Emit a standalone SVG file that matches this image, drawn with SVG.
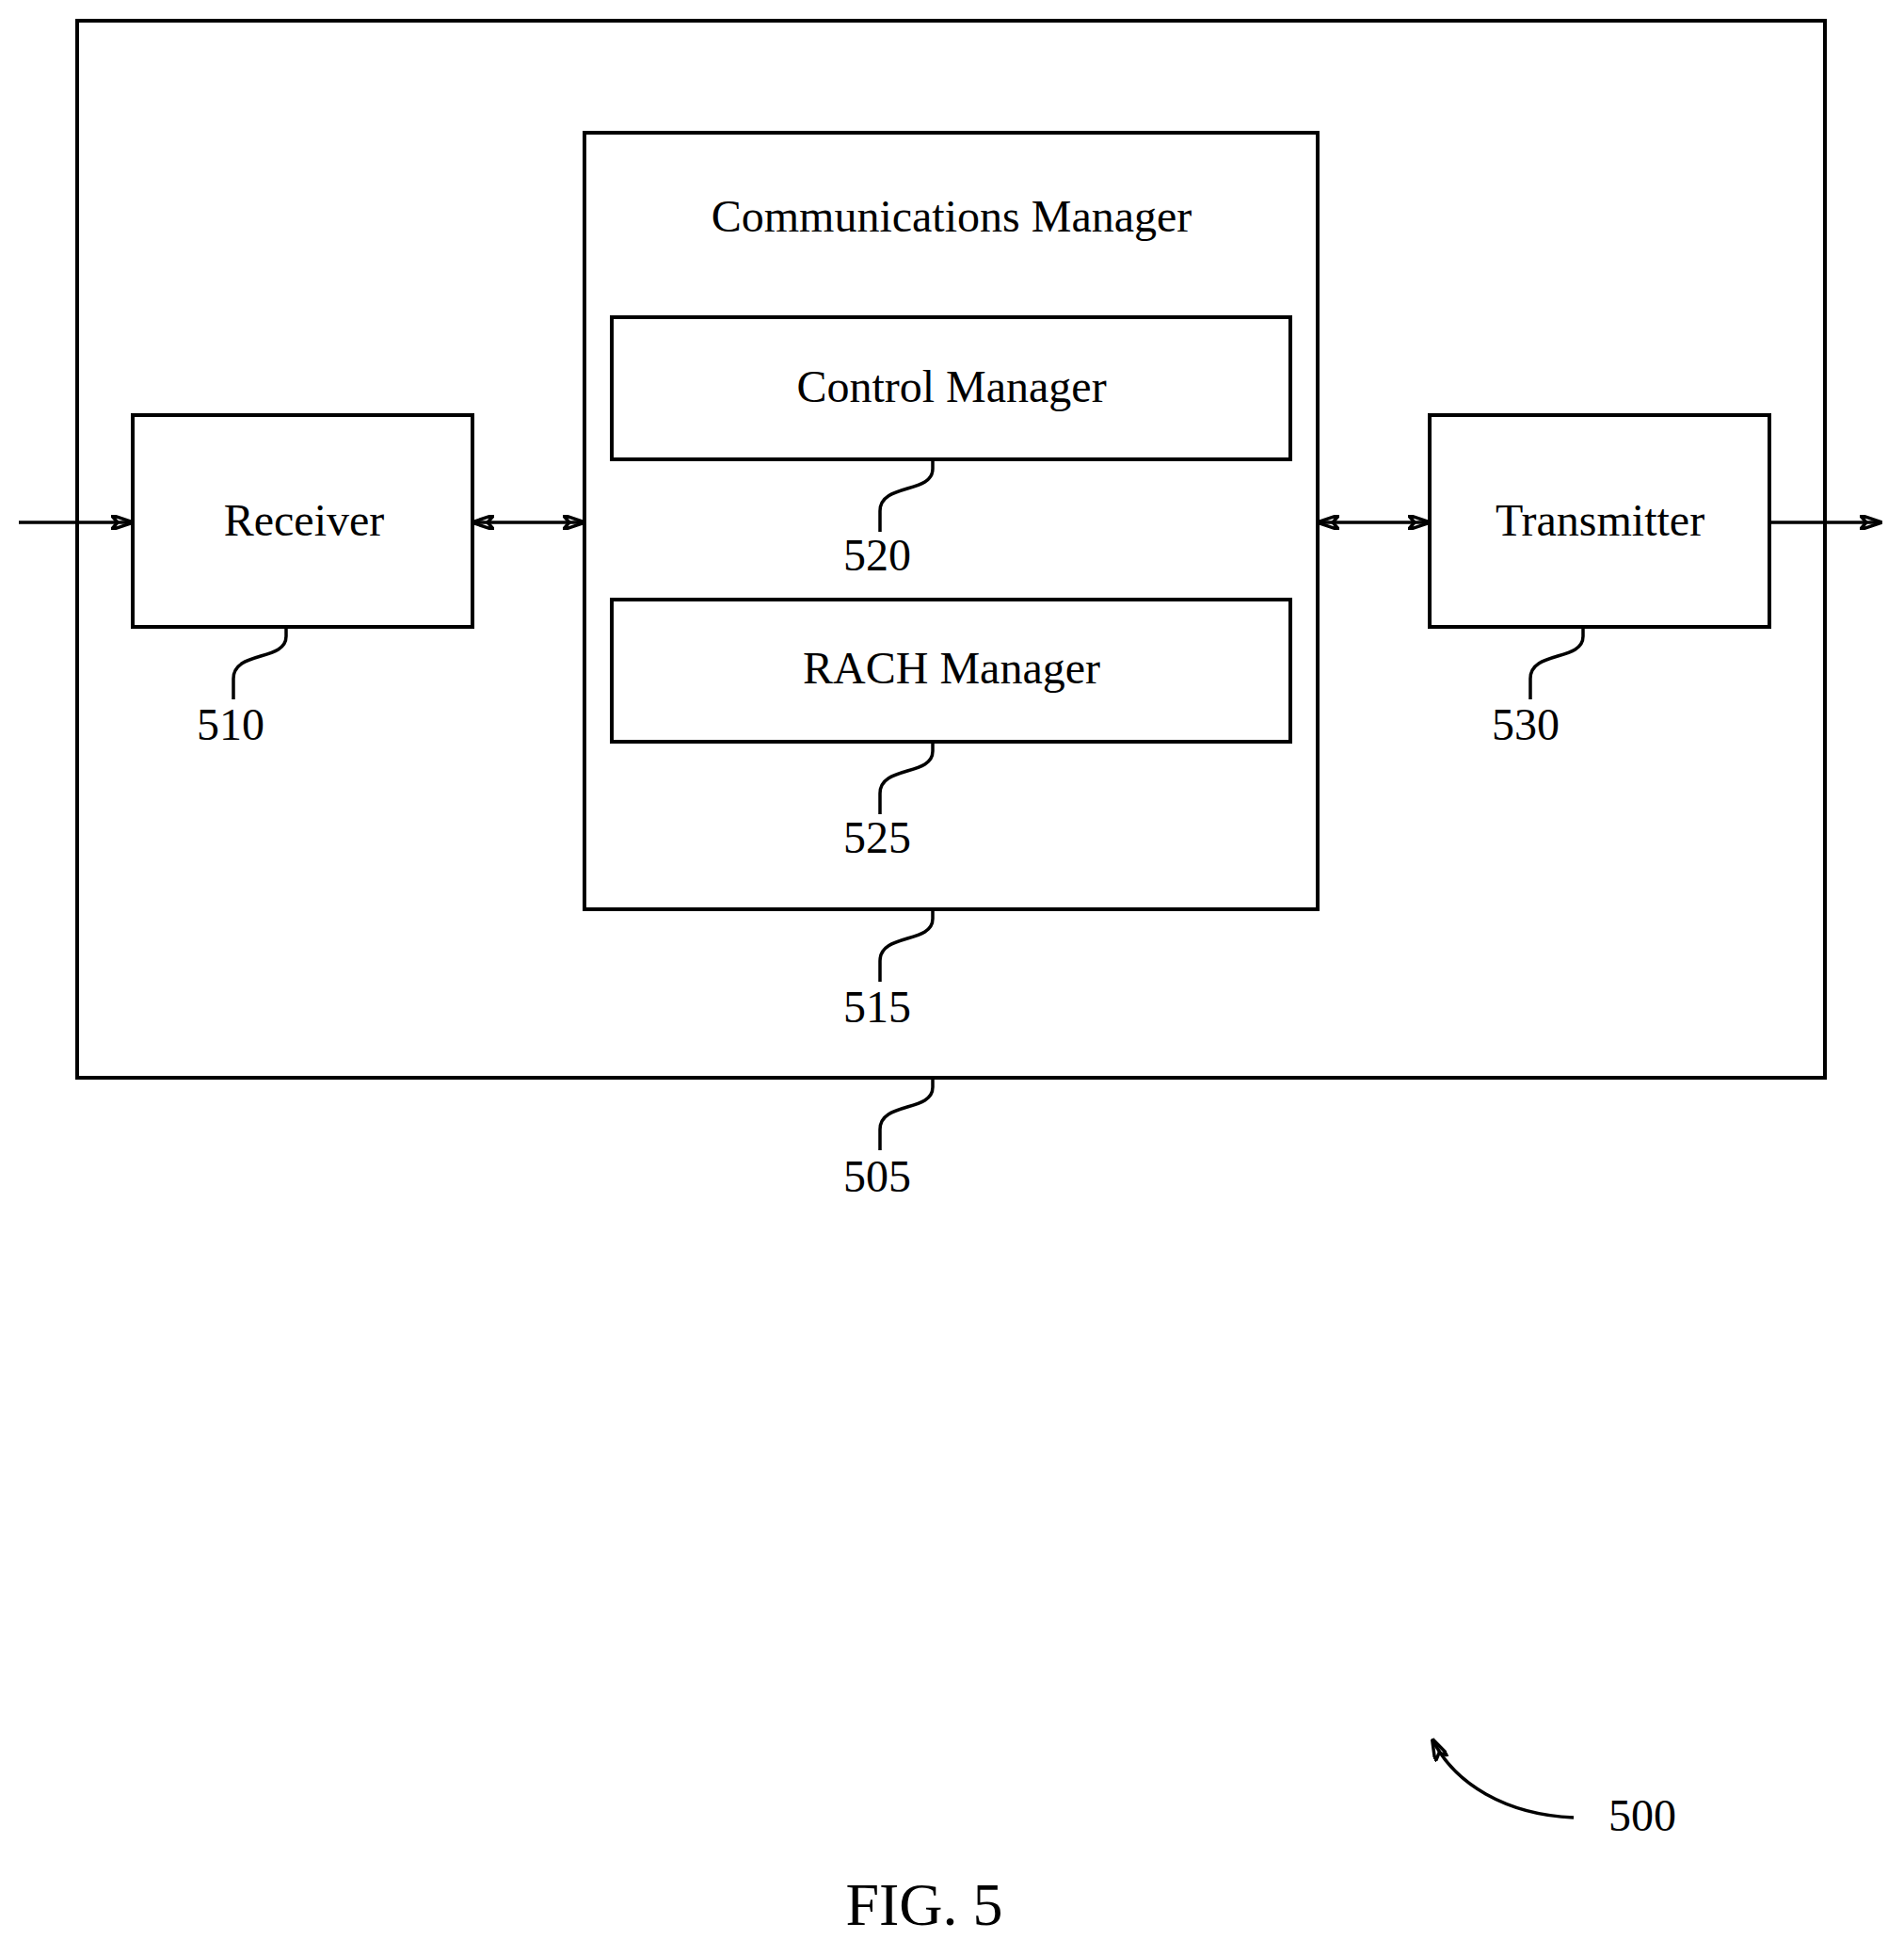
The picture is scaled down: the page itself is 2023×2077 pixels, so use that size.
<svg xmlns="http://www.w3.org/2000/svg" width="2023" height="2077" viewBox="0 0 2023 2077">
<style>
.b{fill:none;stroke:#000;stroke-width:4}
path,line{fill:none;stroke:#000;stroke-width:3.5}
text{font-family:"Liberation Serif",serif;font-size:48px;text-anchor:middle;fill:#000}
</style>
<defs>
<marker id="a" viewBox="0 0 24 16" refX="23" refY="8" markerWidth="24" markerHeight="16" markerUnits="userSpaceOnUse" orient="auto-start-reverse"><path d="M0,0 L24,8 L0,16 L7,8 Z" fill="#000" stroke="none"/></marker>
</defs>
<rect width="2023" height="2077" fill="#fff"/>
<g id="n505"><rect class="b" x="82" y="22" width="1857" height="1123"/><path d="M991,1145 L991,1155 C991,1182 935,1170 935,1200 L935,1222"/><text x="932" y="1266">505</text></g>
<g id="n515"><rect class="b" x="621" y="141" width="779" height="825"/><text x="1011" y="246">Communications Manager</text><path d="M991,966 L991,976 C991,1003 935,991 935,1021 L935,1043"/><text x="932" y="1086">515</text></g>
<g id="n520"><rect class="b" x="650" y="337" width="721" height="151"/><text x="1011" y="427">Control Manager</text><path d="M991,488 L991,498 C991,525 935,513 935,543 L935,565"/><text x="932" y="606">520</text></g>
<g id="n525"><rect class="b" x="650" y="637" width="721" height="151"/><text x="1011" y="726">RACH Manager</text><path d="M991,788 L991,798 C991,825 935,813 935,843 L935,865"/><text x="932" y="906">525</text></g>
<g id="n510"><rect class="b" x="141" y="441" width="361" height="225"/><text x="323" y="569">Receiver</text><path d="M304,666 L304,676 C304,703 248,691 248,721 L248,743"/><text x="245" y="786">510</text></g>
<g id="n530"><rect class="b" x="1519" y="441" width="361" height="225"/><text x="1700" y="569">Transmitter</text><path d="M1682,666 L1682,676 C1682,703 1626,691 1626,721 L1626,743"/><text x="1621" y="786">530</text></g>
<g id="connectors">
<line x1="20" y1="555" x2="141" y2="555" marker-end="url(#a)"/>
<line x1="502" y1="555" x2="621" y2="555" marker-start="url(#a)" marker-end="url(#a)"/>
<line x1="1400" y1="555" x2="1519" y2="555" marker-start="url(#a)" marker-end="url(#a)"/>
<line x1="1880" y1="555" x2="1999" y2="555" marker-end="url(#a)"/>
</g>
<g id="n500"><path d="M1672,1931 C1600,1928 1545,1895 1522,1848" marker-end="url(#a)"/><text x="1745" y="1945">500</text></g>
<text x="982" y="2045" style="font-size:64px">FIG. 5</text>
</svg>
